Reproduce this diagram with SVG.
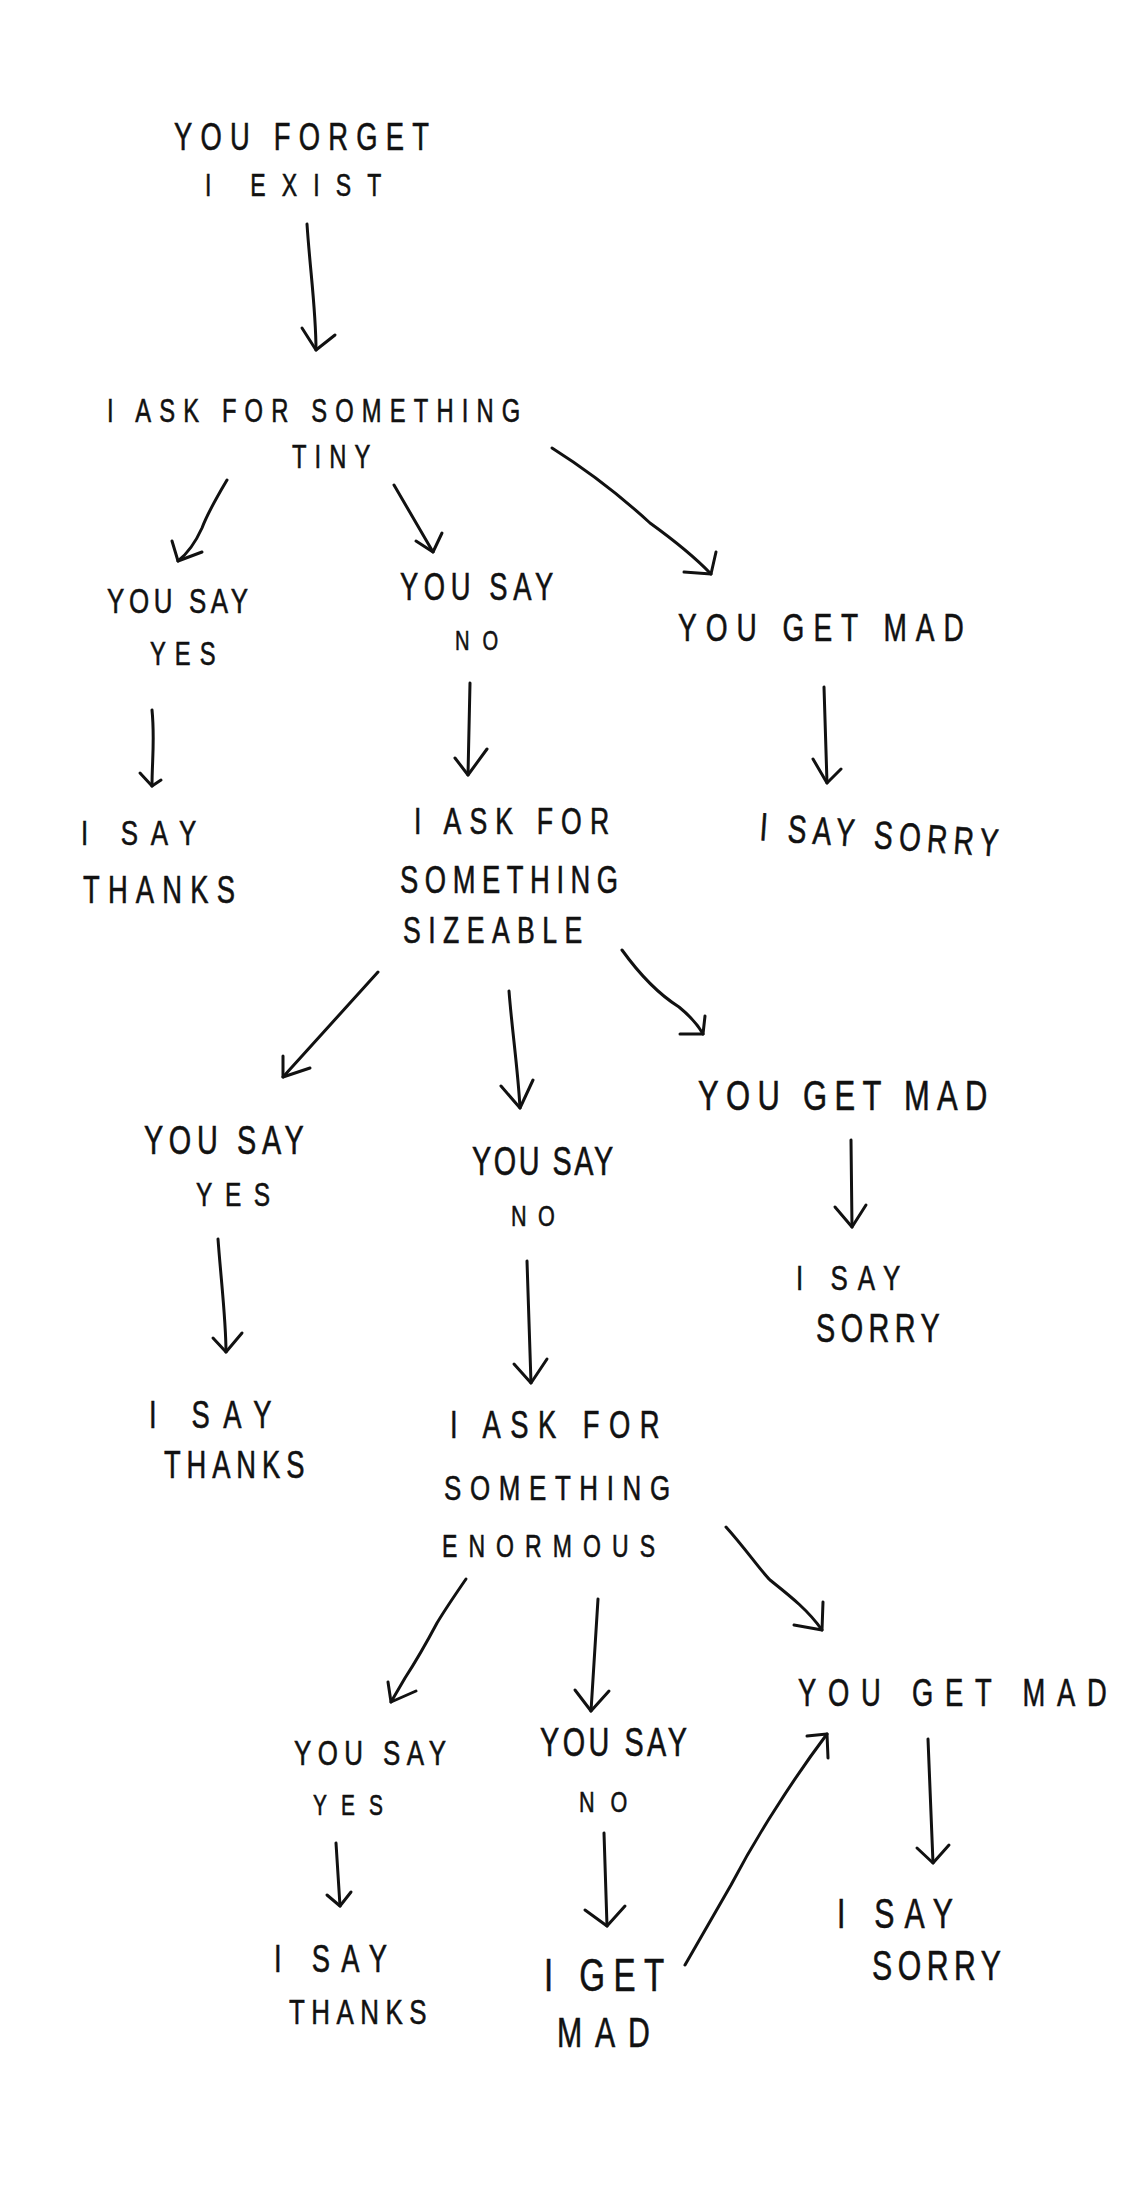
<svg xmlns="http://www.w3.org/2000/svg" width="1141" height="2199" viewBox="0 0 1141 2199">
<style>
text{font-family:"Liberation Sans",Arial,sans-serif;fill:#111;stroke:#111;stroke-width:0.6}
.c path{fill:none;stroke:#111;stroke-width:3;stroke-linecap:round;stroke-linejoin:round}
</style>
<rect width="1141" height="2199" fill="#fff"/>
<g id="n-forget">
<text transform="translate(174 150) scale(.72 1)" font-size="38" textLength="354" lengthAdjust="spacing">YOU FORGET</text>
<text transform="translate(205 196) scale(.72 1)" font-size="32" textLength="245" lengthAdjust="spacing">I EXIST</text>
</g>
<g id="n-tiny">
<text transform="translate(107 422) scale(.72 1)" font-size="33" textLength="574" lengthAdjust="spacing">I ASK FOR SOMETHING</text>
<text transform="translate(292 468) scale(.72 1)" font-size="33" textLength="109" lengthAdjust="spacing">TINY</text>
</g>
<g id="n-yes1">
<text transform="translate(107 613) scale(.72 1)" font-size="36" textLength="196" lengthAdjust="spacing">YOU SAY</text>
<text transform="translate(150 665) scale(.72 1)" font-size="33" textLength="91" lengthAdjust="spacing">YES</text>
</g>
<g id="n-thanks1">
<text transform="translate(81 845) scale(.72 1)" font-size="36" textLength="160" lengthAdjust="spacing">I SAY</text>
<text transform="translate(83 903) scale(.72 1)" font-size="38" textLength="211" lengthAdjust="spacing">THANKS</text>
</g>
<g id="n-no1">
<text transform="translate(400 600) scale(.72 1)" font-size="38" textLength="213" lengthAdjust="spacing">YOU SAY</text>
<text transform="translate(455 650) scale(.72 1)" font-size="28" textLength="60" lengthAdjust="spacing">NO</text>
</g>
<g id="n-mad1">
<text transform="translate(678 641) scale(.72 1)" font-size="39" textLength="397" lengthAdjust="spacing">YOU GET MAD</text>
</g>
<g id="n-sorry1">
<text transform="translate(759 840) rotate(4) scale(.72 1)" font-size="39" textLength="332" lengthAdjust="spacing">I SAY SORRY</text>
</g>
<g id="n-sizeable">
<text transform="translate(414 834) scale(.72 1)" font-size="37" textLength="271" lengthAdjust="spacing">I ASK FOR</text>
<text transform="translate(400 893) scale(.72 1)" font-size="38" textLength="303" lengthAdjust="spacing">SOMETHING</text>
<text transform="translate(403 943) scale(.72 1)" font-size="37" textLength="249" lengthAdjust="spacing">SIZEABLE</text>
</g>
<g id="n-yes2">
<text transform="translate(144 1154) scale(.72 1)" font-size="40" textLength="222" lengthAdjust="spacing">YOU SAY</text>
<text transform="translate(196 1206) scale(.72 1)" font-size="34" textLength="103" lengthAdjust="spacing">YES</text>
</g>
<g id="n-thanks2">
<text transform="translate(149 1428) scale(.72 1)" font-size="38" textLength="170" lengthAdjust="spacing">I SAY</text>
<text transform="translate(164 1478) scale(.72 1)" font-size="38" textLength="195" lengthAdjust="spacing">THANKS</text>
</g>
<g id="n-no2">
<text transform="translate(472 1175) scale(.72 1)" font-size="40" textLength="196" lengthAdjust="spacing">YOU SAY</text>
<text transform="translate(511 1226) scale(.72 1)" font-size="30" textLength="61" lengthAdjust="spacing">NO</text>
</g>
<g id="n-mad2">
<text transform="translate(698 1110) scale(.72 1)" font-size="43" textLength="402" lengthAdjust="spacing">YOU GET MAD</text>
</g>
<g id="n-sorry2">
<text transform="translate(796 1290) scale(.72 1)" font-size="36" textLength="145" lengthAdjust="spacing">I SAY</text>
<text transform="translate(816 1342) scale(.72 1)" font-size="40" textLength="172" lengthAdjust="spacing">SORRY</text>
</g>
<g id="n-enormous">
<text transform="translate(450 1438) scale(.72 1)" font-size="38" textLength="291" lengthAdjust="spacing">I ASK FOR</text>
<text transform="translate(444 1500) scale(.72 1)" font-size="36" textLength="314" lengthAdjust="spacing">SOMETHING</text>
<text transform="translate(442 1557) scale(.72 1)" font-size="32" textLength="296" lengthAdjust="spacing">ENORMOUS</text>
</g>
<g id="n-yes3">
<text transform="translate(294 1765) scale(.72 1)" font-size="36" textLength="211" lengthAdjust="spacing">YOU SAY</text>
<text transform="translate(313 1815) scale(.72 1)" font-size="29" textLength="97" lengthAdjust="spacing">YES</text>
</g>
<g id="n-thanks3">
<text transform="translate(274 1972) scale(.72 1)" font-size="38" textLength="157" lengthAdjust="spacing">I SAY</text>
<text transform="translate(289 2024) scale(.72 1)" font-size="36" textLength="191" lengthAdjust="spacing">THANKS</text>
</g>
<g id="n-no3">
<text transform="translate(540 1756) scale(.72 1)" font-size="40" textLength="204" lengthAdjust="spacing">YOU SAY</text>
<text transform="translate(579 1812) scale(.72 1)" font-size="30" textLength="67" lengthAdjust="spacing">NO</text>
</g>
<g id="n-igetmad">
<text transform="translate(544 1991) scale(.72 1)" font-size="46" textLength="167" lengthAdjust="spacing">I GET</text>
<text transform="translate(557 2047) scale(.72 1)" font-size="42" textLength="129" lengthAdjust="spacing">MAD</text>
</g>
<g id="n-mad3">
<text transform="translate(798 1706) scale(.72 1)" font-size="38" textLength="429" lengthAdjust="spacing">YOU GET MAD</text>
</g>
<g id="n-sorry3">
<text transform="translate(837 1928) scale(.72 1)" font-size="42" textLength="161" lengthAdjust="spacing">I SAY</text>
<text transform="translate(872 1980) scale(.72 1)" font-size="42" textLength="179" lengthAdjust="spacing">SORRY</text>
</g>
<g id="connectors" class="c">
<path d="M307,224 C310,270 316,310 316,350"/><path d="M302,328 L316,350 L335,335"/>
<path d="M227,480 Q208,512 202,528 Q192,550 178,561"/><path d="M172,541 L178,561 L202,552"/>
<path d="M394,485 L433,552"/><path d="M416,541 L433,552 L442,533"/>
<path d="M552,448 C590,472 625,500 650,523 C668,536 690,552 711,574"/><path d="M684,572 L711,574 L716,552"/>
<path d="M152,710 C155,740 152,760 152,786"/><path d="M140,773 L152,786 L161,780"/>
<path d="M470,683 L468,775"/><path d="M455,758 L468,775 L487,749"/>
<path d="M824,687 L827,783"/><path d="M813,759 L827,783 L841,769"/>
<path d="M378,972 L283,1077"/><path d="M283,1056 L283,1077 L310,1068"/>
<path d="M509,991 C512,1030 518,1070 520,1108"/><path d="M501,1086 L520,1108 L533,1080"/>
<path d="M622,950 C640,975 660,995 679,1007 C690,1016 698,1025 703,1034"/><path d="M680,1034 L703,1034 L705,1016"/>
<path d="M218,1239 C221,1280 226,1320 226,1352"/><path d="M213,1338 L226,1352 L242,1333"/>
<path d="M527,1261 L531,1383"/><path d="M514,1364 L531,1383 L547,1359"/>
<path d="M851,1140 L852,1227"/><path d="M835,1207 L852,1227 L866,1205"/>
<path d="M466,1579 Q446,1608 437,1623 Q420,1655 405,1678 L391,1702"/><path d="M388,1682 L391,1702 L416,1691"/>
<path d="M598,1599 L591,1711"/><path d="M575,1690 L591,1711 L609,1691"/>
<path d="M726,1527 C745,1548 760,1570 770,1580 C790,1596 808,1610 822,1630"/><path d="M794,1625 L822,1630 L823,1602"/>
<path d="M336,1843 L340,1906"/><path d="M327,1895 L340,1906 L351,1892"/>
<path d="M604,1833 L607,1926"/><path d="M585,1910 L607,1926 L625,1906"/>
<path d="M685,1965 Q708,1925 731,1885 Q752,1845 776,1808 Q800,1770 827,1734"/><path d="M807,1736 L827,1734 L828,1758"/>
<path d="M928,1739 L933,1863"/><path d="M917,1848 L933,1863 L949,1845"/>
</g>
</svg>
